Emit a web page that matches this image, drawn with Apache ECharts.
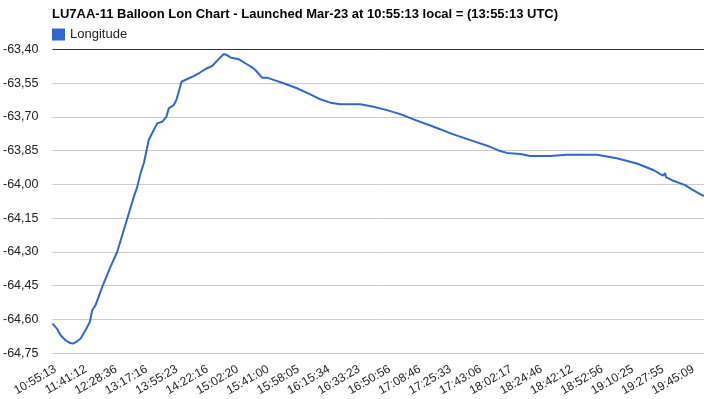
<!DOCTYPE html>
<html>
<head>
<meta charset="utf-8">
<script src="https://cdn.jsdelivr.net/npm/echarts@6/dist/echarts.min.js"></script>
<style>html,body{margin:0;padding:0;background:#fff}#chart{width:707px;height:399px}</style>
</head>
<body>
<div id="chart"></div>
<script>
var timeLabels = ['10:55:13','11:41:12','12:28:36','13:17:16','13:55:23','14:22:16','15:02:20','15:41:00','15:58:05','16:15:34','16:33:23','16:50:56','17:08:46','17:25:33','17:43:06','18:02:17','18:24:46','18:42:12','18:52:56','19:10:25','19:27:55','19:45:09'];
// position along the time axis, in units of label steps
var samplePos = [0,0.14,0.27,0.43,0.56,0.67,0.79,0.93,1.09,1.23,1.31,1.42,1.64,1.91,2.13,2.30,2.48,2.68,2.79,2.90,3.01,3.17,3.28,3.45,3.61,3.75,3.83,3.99,4.08,4.25,4.44,4.65,4.87,5.09,5.26,5.31,5.44,5.64,5.73,5.86,6.13,6.35,6.57,6.68,6.90,7.07,7.28,7.61,8.05,8.49,8.82,9.15,9.48,10.14,10.57,11.01,11.45,11.89,12.55,13.20,13.86,14.41,14.74,14.96,15.40,15.73,16.39,16.94,17.92,18.58,19.24,19.78,20.10,20.17,20.20,20.44,20.83,21.05,21.38,21.45];
var longitude = [-64.618,-64.639,-64.670,-64.692,-64.703,-64.707,-64.699,-64.684,-64.647,-64.611,-64.559,-64.536,-64.455,-64.366,-64.300,-64.225,-64.144,-64.055,-64.012,-63.951,-63.905,-63.803,-63.773,-63.729,-63.722,-63.700,-63.662,-63.648,-63.625,-63.544,-63.532,-63.519,-63.502,-63.484,-63.474,-63.470,-63.448,-63.421,-63.425,-63.436,-63.444,-63.462,-63.480,-63.492,-63.526,-63.526,-63.536,-63.551,-63.573,-63.600,-63.622,-63.637,-63.644,-63.644,-63.655,-63.670,-63.688,-63.711,-63.744,-63.778,-63.808,-63.833,-63.852,-63.860,-63.865,-63.874,-63.874,-63.868,-63.868,-63.884,-63.907,-63.936,-63.961,-63.950,-63.968,-63.984,-64.003,-64.022,-64.048,-64.050];
var labelPos = [0.1,1.1,2.1,3.1,4.1,5.1,6.1,7.1,8.1,9.1,10.1,11.1,12.1,13.1,14.1,15.1,16.1,17.1,18.1,19.1,20.1,21.1];
var yTicksMin = -64.75, yTicksMax = -63.40, yStep = 0.15;
var titleText = 'LU7AA-11 Balloon Lon Chart - Launched Mar-23 at 10:55:13 local = (13:55:13 UTC)';
var seriesName = 'Longitude';

var pts = samplePos.map(function(x, i){ return [x, longitude[i]]; });
var font = 'Arial, "Liberation Sans", sans-serif';
var gridColors = [];
for (var i = 0; i < 10; i++) gridColors.push(i === 9 ? '#333333' : '#cccccc');

var chart = echarts.init(document.getElementById('chart'), null, {renderer: 'canvas'});
chart.setOption({
  animation: false,
  backgroundColor: '#ffffff',
  title: {
    text: titleText, left: 47, top: 3,
    textStyle: {fontFamily: font, fontSize: 13, fontWeight: 'bold', color: '#000'}
  },
  legend: {
    data: [{name: seriesName, icon: 'rect'}], left: 47, top: 23,
    itemWidth: 13, itemHeight: 12, itemGap: 5,
    textStyle: {fontFamily: font, fontSize: 13, color: '#222'}
  },
  grid: {left: 52, right: 3, top: 49.3, bottom: 45.7, containLabel: false},
  xAxis: {
    type: 'value', min: 0, max: 21.45,
    axisLine: {show: false}, axisTick: {show: false}, splitLine: {show: false},
    axisLabel: {
      rotate: 30, fontFamily: font, fontSize: 12, color: '#222', margin: 15,
      customValues: labelPos,
      formatter: function(v){
        var k = labelPos.indexOf(v);
        if (k < 0) { for (var j = 0; j < labelPos.length; j++) if (Math.abs(labelPos[j] - v) < 1e-6) k = j; }
        return k >= 0 ? timeLabels[k] : '';
      }
    }
  },
  yAxis: {
    type: 'value', min: yTicksMin, max: yTicksMax, interval: yStep,
    axisLine: {show: false}, axisTick: {show: false},
    splitLine: {show: true, lineStyle: {color: gridColors, width: 1}},
    axisLabel: {
      fontFamily: font, fontSize: 12.5, color: '#222', margin: 14,
      formatter: function(v){ return v.toFixed(2).replace('.', ','); }
    }
  },
  series: [{
    name: seriesName, type: 'line', data: pts, showSymbol: false,
    color: '#3366CC', lineStyle: {width: 2, color: '#3366CC'}, itemStyle: {color: '#3366CC'}
  }]
});
</script>
</body>
</html>
